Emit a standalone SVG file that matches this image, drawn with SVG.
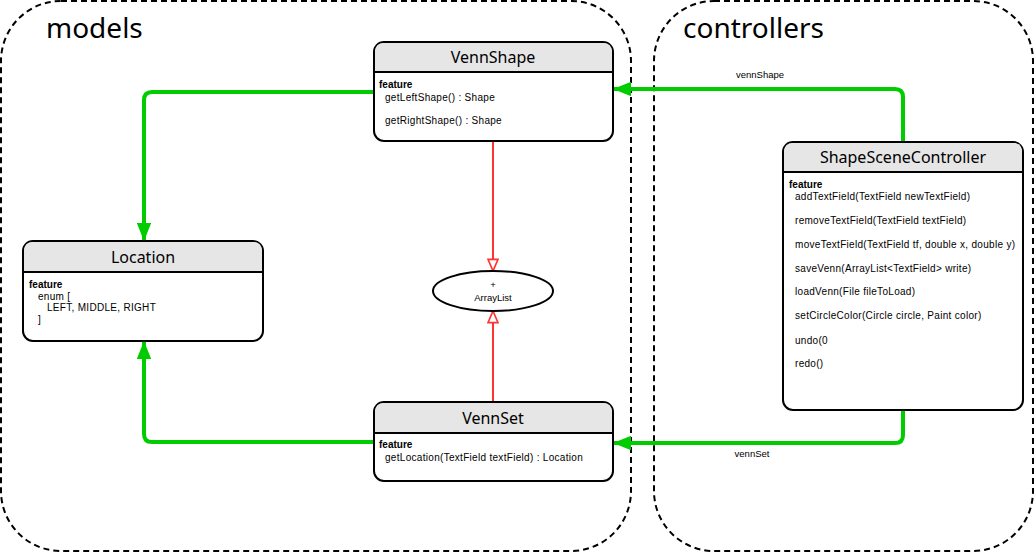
<svg xmlns="http://www.w3.org/2000/svg" width="1035" height="553" viewBox="0 0 1035 553">
<style>
.cont{fill:none;stroke:#000;stroke-width:2;stroke-dasharray:6 4}
.ctitle{font-family:"Noto Sans","Open Sans",sans-serif;font-size:28px;fill:#000}
.box{fill:#fff;stroke:#000;stroke-width:2}
.hdr{fill:#e6e6e6;stroke:none}
.sep{stroke:#000;stroke-width:2}
.ntitle{font-family:"Noto Sans","Open Sans",sans-serif;font-size:16px;fill:#000;text-anchor:middle}
.body{font-family:"Liberation Sans",Arial,sans-serif;font-size:10px;letter-spacing:0.3px;fill:#000}
.b{font-weight:bold;letter-spacing:0}
.green{fill:none;stroke:#00cc00;stroke-width:4}
.red{fill:none;stroke:#ff3333;stroke-width:2}
.lbl{font-family:"Liberation Sans",Arial,sans-serif;font-size:9.5px;fill:#000;text-anchor:middle}
</style>
<defs>
<marker id="ga" viewBox="0 0 10 10" refX="10" refY="5" markerWidth="4.5" markerHeight="3.6" orient="auto" markerUnits="strokeWidth" preserveAspectRatio="none">
<path d="M0,0 L10,5 L0,10 Z" fill="#00cc00"/>
</marker>
<marker id="ra" viewBox="0 0 12 12" refX="11" refY="6" markerWidth="7" markerHeight="6" orient="auto" markerUnits="strokeWidth" preserveAspectRatio="none">
<path d="M1,1 L11,6 L1,11 Z" fill="#fff" stroke="#ff3333" stroke-width="1.6"/>
</marker>
</defs>

<g id="models">
<rect class="cont" x="1" y="1" width="630" height="550" rx="60" ry="60"/>
<text class="ctitle" x="46" y="38">models</text>
</g>
<g id="controllers">
<rect class="cont" x="654" y="1" width="379" height="550" rx="60" ry="60"/>
<text class="ctitle" x="683" y="38">controllers</text>
</g>

<g id="connectors">
<path class="green" d="M374,92 H152 Q144,92 144,100 V241" marker-end="url(#ga)"/>
<path class="green" d="M374,442 H152 Q144,442 144,434 V341" marker-end="url(#ga)"/>
<path class="green" d="M903,142 V97 Q903,89 895,89 H613" marker-end="url(#ga)"/>
<path class="green" d="M903,410 V435 Q903,443 895,443 H613" marker-end="url(#ga)"/>
<path class="red" d="M493,141 V271" marker-end="url(#ra)"/>
<path class="red" d="M493,402 V311" marker-end="url(#ra)"/>
<text class="lbl" x="760" y="78">vennShape</text>
<text class="lbl" x="752" y="457">vennSet</text>
</g>

<g id="VennShape">
<rect class="box" x="374" y="42" width="239" height="99" rx="10"/>
<path class="hdr" d="M375,72 V52 Q375,43 384,43 H603 Q612,43 612,52 V72 Z"/>
<line class="sep" x1="374" y1="72" x2="613" y2="72"/>
<text class="ntitle" x="493" y="63">VennShape</text>
<text class="body b" x="379" y="88">feature</text>
<text class="body" x="385" y="101">getLeftShape() : Shape</text>
<text class="body" x="385" y="124">getRightShape() : Shape</text>
</g>

<g id="Location">
<rect class="box" x="23" y="241" width="240" height="100" rx="10"/>
<path class="hdr" d="M24,272 V251 Q24,242 33,242 H253 Q262,242 262,251 V272 Z"/>
<line class="sep" x1="23" y1="272" x2="263" y2="272"/>
<text class="ntitle" x="143" y="263">Location</text>
<text class="body b" x="29" y="288">feature</text>
<text class="body" x="38" y="300">enum [</text>
<text class="body" x="47" y="311">LEFT,  MIDDLE, RIGHT</text>
<text class="body" x="38" y="323">]</text>
</g>

<g id="ArrayList">
<ellipse cx="493" cy="291" rx="60" ry="20" fill="#fff" stroke="#000" stroke-width="2"/>
<text class="lbl" x="493" y="288">+</text>
<text class="lbl" x="493" y="301">ArrayList</text>
</g>

<g id="VennSet">
<rect class="box" x="374" y="402" width="239" height="79" rx="10"/>
<path class="hdr" d="M375,433 V412 Q375,403 384,403 H603 Q612,403 612,412 V433 Z"/>
<line class="sep" x1="374" y1="433" x2="613" y2="433"/>
<text class="ntitle" x="493" y="424">VennSet</text>
<text class="body b" x="379" y="448">feature</text>
<text class="body" x="385" y="461">getLocation(TextField textField) : Location</text>
</g>

<g id="ShapeSceneController">
<rect class="box" x="783" y="142" width="240" height="268" rx="10"/>
<path class="hdr" d="M784,172 V152 Q784,143 793,143 H1013 Q1022,143 1022,152 V172 Z"/>
<line class="sep" x1="783" y1="172" x2="1023" y2="172"/>
<text class="ntitle" x="903" y="163">ShapeSceneController</text>
<text class="body b" x="789" y="188">feature</text>
<text class="body" x="795" y="200">addTextField(TextField newTextField)</text>
<text class="body" x="795" y="224">removeTextField(TextField textField)</text>
<text class="body" x="795" y="248">moveTextField(TextField tf, double x, double y)</text>
<text class="body" x="795" y="272">saveVenn(ArrayList&lt;TextField&gt; write)</text>
<text class="body" x="795" y="295">loadVenn(File fileToLoad)</text>
<text class="body" x="795" y="319">setCircleColor(Circle circle, Paint color)</text>
<text class="body" x="795" y="344">undo(0</text>
<text class="body" x="795" y="367">redo()</text>
</g>
</svg>
